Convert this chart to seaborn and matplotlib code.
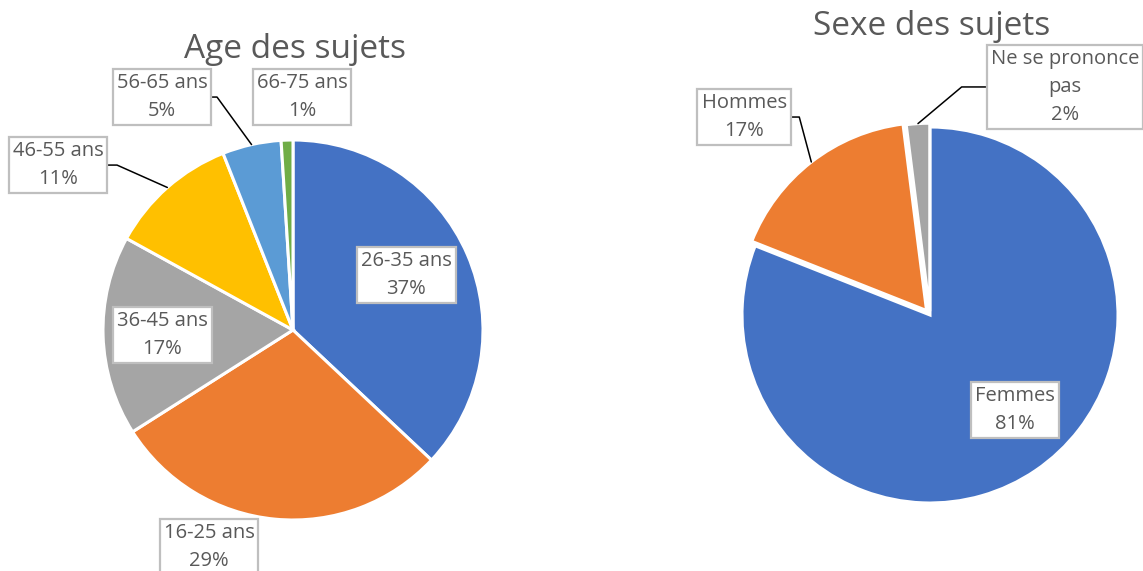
import numpy as np
import matplotlib
matplotlib.use("Agg")
import matplotlib.pyplot as plt
import seaborn as sns

# Data
age_labels = ["26-35 ans", "16-25 ans", "36-45 ans", "46-55 ans", "56-65 ans", "66-75 ans"]
age_values = [37, 29, 17, 11, 5, 1]
sex_labels = ["Femmes", "Hommes", "Ne se prononce\npas"]
sex_values = [81, 17, 2]

office_colors = ["#4472C4", "#ED7D31", "#A5A5A5", "#FFC000", "#5B9BD5", "#70AD47"]

sns.set_theme(style="white")
plt.rcParams["font.family"] = ["Open Sans", "DejaVu Sans"]

TEXT = "#595959"
BOX = dict(boxstyle="square,pad=0.2", facecolor="white", edgecolor="#bfbfbf", linewidth=1.6)
LABEL_SIZE = 14.5
LINESP = 1.55

fig = plt.figure(figsize=(11.43, 5.71), dpi=100)


# Label positions (in pie radius units) and leader angle (None = no leader)
age_label_pos = [(0.595, 0.289), (-0.442, -1.142), (-0.689, -0.026),
                 (-1.237, 0.868), (-0.689, 1.226), (0.047, 1.226)]
age_leader = [None, None, None, 156, 126, None]
sex_label_pos = [(0.452, -0.505), (-0.989, 1.053), (0.718, 1.213)]
sex_leader = [None, 105, 40]


def draw_pie(ax, labels, values, colors, explode, label_pos, leader, title, title_y):
    wedges, _ = ax.pie(values, colors=colors, startangle=90, counterclock=False,
                       explode=explode, radius=1.0,
                       wedgeprops=dict(edgecolor="white", linewidth=2.2))
    total = float(sum(values))
    for w, lab, val, pos, ang in zip(wedges, labels, values, label_pos, leader):
        txt = f"{lab}\n{val / total * 100:.0f}%"
        if ang is None:
            ax.text(pos[0], pos[1], txt, ha="center", va="center", fontsize=LABEL_SIZE,
                    color=TEXT, bbox=BOX, linespacing=LINESP, clip_on=False)
        else:
            mid = np.deg2rad((w.theta1 + w.theta2) / 2)
            cx, cy = w.center
            xy = (cx + w.r * np.cos(mid), cy + w.r * np.sin(mid))
            ax.annotate(txt, xy=xy, xytext=pos, ha="center", va="center", fontsize=LABEL_SIZE,
                        color=TEXT, bbox=BOX, linespacing=LINESP,
                        arrowprops=dict(arrowstyle="-", color="black", lw=1.1,
                                        shrinkA=0, shrinkB=0,
                                        connectionstyle=f"angle,angleA=0,angleB={ang},rad=0"))
    ax.text(0.01, title_y, title, ha="center", va="center", fontsize=24, color=TEXT)


# left pie: center (293, 330) px from top, radius 190 px
ax1 = fig.add_axes([0, 0, 0.5, 1])
draw_pie(ax1, age_labels, age_values, office_colors, None, age_label_pos, age_leader,
         "Age des sujets", 1.474)
ax1.set_xlim(-293 / 190, (571.5 - 293) / 190)
ax1.set_ylim(-241 / 190, 330 / 190)
ax1.set_aspect("auto")
ax1.axis("off")

# right pie: center (930, 315) px from top, radius 188 px
ax2 = fig.add_axes([0.5, 0, 0.5, 1])
draw_pie(ax2, sex_labels, sex_values, office_colors[:3], [0, 0.03, 0.02], sex_label_pos,
         sex_leader, "Sexe des sujets", 1.532)
ax2.set_xlim((571.5 - 930) / 188, (1143 - 930) / 188)
ax2.set_ylim(-256 / 188, 315 / 188)
ax2.set_aspect("auto")
ax2.axis("off")

fig.savefig("out.png", dpi=100, facecolor="white")
